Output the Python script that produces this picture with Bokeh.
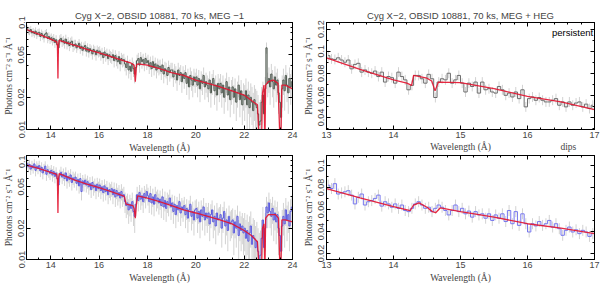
import numpy as np
from bokeh.plotting import figure
from bokeh.layouts import column, row
from bokeh.models import (Range1d, LinearAxis, LogAxis, FixedTicker, SingleIntervalTicker,
                          CustomJSTickFormatter, Label)
from bokeh.embed import file_html
from bokeh.resources import INLINE

# ---------------- data ----------------
TITLE_L = "Cyg X\u22122, OBSID 10881, 70 ks, MEG \u22121"
TITLE_R = "Cyg X\u22122, OBSID 10881, 70 ks, MEG + HEG"
XLABEL = "Wavelength (\u00c5)"
YLABEL = "Photons cm\u207b\u00b2 s\u207b\u00b9 \u00c5\u207b\u00b9"
TAG_PERS = "persistent"
TAG_DIPS = "dips"

# MEG -1 spectra, 0.05 A bins starting at 13.0 A
meg_start = 13.0
meg_bin = 0.05
pers_meg_flux = [
    0.088, 0.084, 0.083, 0.086, 0.080, 0.082, 0.079, 0.083, 0.077, 0.080,
    0.081, 0.074, 0.079, 0.076, 0.072, 0.078, 0.080, 0.071, 0.074, 0.070,
    0.072, 0.068, 0.071, 0.065, 0.069, 0.062, 0.058, 0.069, 0.071, 0.066,
    0.068, 0.064, 0.070, 0.063, 0.066, 0.061, 0.065, 0.067, 0.060, 0.062,
    0.063, 0.058, 0.061, 0.064, 0.057, 0.060, 0.055, 0.059, 0.061, 0.054,
    0.058, 0.053, 0.057, 0.055, 0.051, 0.056, 0.054, 0.050, 0.055, 0.053,
    0.054, 0.050, 0.052, 0.047, 0.053, 0.049, 0.051, 0.046, 0.050, 0.048,
    0.047, 0.050, 0.044, 0.049, 0.045, 0.043, 0.048, 0.041, 0.046, 0.044,
    0.045, 0.041, 0.038, 0.043, 0.036, 0.039, 0.035, 0.041, 0.037, 0.033,
    0.038, 0.044, 0.046, 0.040, 0.047, 0.043, 0.045, 0.041, 0.046, 0.042,
    0.044, 0.039, 0.042, 0.037, 0.043, 0.038, 0.041, 0.036, 0.040, 0.038,
    0.039, 0.035, 0.040, 0.033, 0.037, 0.036, 0.032, 0.038, 0.034, 0.036,
    0.036, 0.031, 0.035, 0.033, 0.029, 0.036, 0.032, 0.034, 0.028, 0.033,
    0.030, 0.034, 0.027, 0.031, 0.025, 0.032, 0.029, 0.026, 0.031, 0.028,
    0.031, 0.026, 0.030, 0.024, 0.029, 0.027, 0.032, 0.025, 0.028, 0.026,
    0.024, 0.029, 0.022, 0.027, 0.030, 0.023, 0.026, 0.021, 0.027, 0.024,
    0.027, 0.022, 0.026, 0.020, 0.024, 0.028, 0.021, 0.025, 0.019, 0.023,
    0.025, 0.020, 0.024, 0.018, 0.022, 0.026, 0.019, 0.023, 0.017, 0.021,
    0.019, 0.023, 0.017, 0.021, 0.016, 0.020, 0.018, 0.015, 0.019, 0.017,
    0.016, 0.014, 0.011, 0.012, 0.018, 0.021, 0.014, 0.024, 0.058, 0.027,
    0.030, 0.025, 0.033, 0.028, 0.024, 0.031, 0.026, 0.029, 0.022, 0.018,
    0.013, 0.024, 0.029, 0.023, 0.032, 0.026, 0.022, 0.030, 0.025, 0.028,
]
dips_meg_flux = [
    0.084, 0.078, 0.082, 0.074, 0.080, 0.076, 0.083, 0.072, 0.079, 0.075,
    0.080, 0.071, 0.077, 0.068, 0.074, 0.079, 0.066, 0.073, 0.070, 0.067,
    0.072, 0.065, 0.070, 0.063, 0.068, 0.060, 0.052, 0.064, 0.069, 0.062,
    0.066, 0.060, 0.068, 0.057, 0.063, 0.059, 0.065, 0.055, 0.061, 0.058,
    0.062, 0.054, 0.059, 0.051, 0.060, 0.045, 0.057, 0.053, 0.058, 0.052,
    0.056, 0.050, 0.054, 0.047, 0.055, 0.049, 0.052, 0.046, 0.053, 0.048,
    0.052, 0.046, 0.050, 0.044, 0.051, 0.045, 0.049, 0.042, 0.047, 0.045,
    0.048, 0.042, 0.047, 0.040, 0.046, 0.041, 0.044, 0.039, 0.045, 0.040,
    0.042, 0.036, 0.033, 0.035, 0.030, 0.034, 0.031, 0.036, 0.029, 0.026,
    0.034, 0.042, 0.037, 0.044, 0.038, 0.041, 0.036, 0.043, 0.039, 0.045,
    0.041, 0.036, 0.043, 0.035, 0.040, 0.034, 0.042, 0.037, 0.039, 0.035,
    0.038, 0.033, 0.040, 0.032, 0.037, 0.031, 0.036, 0.034, 0.039, 0.032,
    0.035, 0.029, 0.034, 0.027, 0.033, 0.030, 0.036, 0.028, 0.032, 0.030,
    0.033, 0.027, 0.031, 0.025, 0.030, 0.034, 0.026, 0.029, 0.024, 0.030,
    0.031, 0.025, 0.029, 0.023, 0.030, 0.026, 0.032, 0.024, 0.028, 0.025,
    0.028, 0.022, 0.027, 0.030, 0.023, 0.026, 0.021, 0.028, 0.024, 0.025,
    0.027, 0.020, 0.025, 0.029, 0.021, 0.024, 0.019, 0.026, 0.022, 0.023,
    0.024, 0.018, 0.023, 0.020, 0.026, 0.017, 0.022, 0.019, 0.021, 0.018,
    0.020, 0.016, 0.019, 0.015, 0.018, 0.021, 0.014, 0.017, 0.016, 0.013,
    0.015, 0.012, 0.010, 0.011, 0.016, 0.024, 0.013, 0.020, 0.032, 0.028,
    0.035, 0.029, 0.026, 0.031, 0.024, 0.028, 0.023, 0.027, 0.020, 0.017,
    0.012, 0.021, 0.026, 0.022, 0.030, 0.024, 0.027, 0.021, 0.029, 0.032,
]
# typical 1-sigma error in each 1-A segment (13-14, 14-15, ..., 23-24)
pers_meg_err = [0.007, 0.007, 0.006, 0.006, 0.006, 0.006, 0.006, 0.006, 0.006, 0.007, 0.008]
dips_meg_err = [0.009, 0.009, 0.008, 0.008, 0.008, 0.008, 0.007, 0.007, 0.007, 0.008, 0.009]

# folded models for MEG -1
pers_meg_model_wl = [13.0, 13.5, 14.0, 14.25, 14.28, 14.30, 14.32, 14.35, 15.0, 15.5, 16.0, 16.5,
                     17.0, 17.3, 17.45, 17.5, 17.55, 17.6, 18.0, 18.5, 19.0, 19.5, 20.0, 20.5,
                     21.0, 21.5, 22.0, 22.4, 22.55, 22.62, 22.72, 22.76, 22.82, 22.86, 22.89,
                     23.0, 23.2, 23.4, 23.48, 23.52, 23.56, 23.7, 24.0]
pers_meg_model = [0.086, 0.078, 0.070, 0.066, 0.060, 0.030, 0.060, 0.068, 0.061, 0.056, 0.052, 0.048,
                  0.044, 0.042, 0.040, 0.028, 0.040, 0.041, 0.040, 0.037, 0.034, 0.032, 0.029, 0.027,
                  0.025, 0.023, 0.021, 0.018, 0.017, 0.008, 0.008, 0.022, 0.026, 0.008, 0.026,
                  0.028, 0.029, 0.027, 0.008, 0.008, 0.026, 0.026, 0.024]
dips_meg_model_wl = [13.0, 13.5, 14.0, 14.25, 14.28, 14.30, 14.32, 14.35, 15.0, 15.5, 16.0, 16.5,
                     17.0, 17.05, 17.12, 17.4, 17.45, 17.5, 17.55, 17.6, 18.0, 18.5, 19.0, 19.5,
                     20.0, 20.5, 21.0, 21.5, 22.0, 22.3, 22.55, 22.62, 22.72, 22.76, 22.82,
                     22.86, 22.89, 23.0, 23.3, 23.42, 23.48, 23.52, 23.56, 23.7, 24.0]
dips_meg_model = [0.081, 0.075, 0.069, 0.066, 0.058, 0.028, 0.058, 0.067, 0.058, 0.053, 0.049, 0.045,
                  0.041, 0.040, 0.034, 0.033, 0.031, 0.025, 0.035, 0.041, 0.039, 0.036, 0.033, 0.030,
                  0.028, 0.026, 0.024, 0.022, 0.019, 0.017, 0.0148, 0.008, 0.008, 0.020, 0.022,
                  0.008, 0.025, 0.027, 0.027, 0.025, 0.008, 0.008, 0.024, 0.024, 0.023]

# MEG + HEG combined spectra, 0.05 A bins starting at 13.0 A
comb_start = 13.0
comb_bin = 0.05
pers_comb_flux = [
    0.096, 0.093, 0.0925, 0.094, 0.092, 0.090, 0.092, 0.084, 0.088, 0.089,
    0.081, 0.083, 0.081, 0.080, 0.082, 0.077, 0.081, 0.072, 0.077, 0.076,
    0.071, 0.081, 0.077, 0.074, 0.065, 0.069, 0.078, 0.078, 0.075, 0.071,
    0.079, 0.075, 0.058, 0.072, 0.075, 0.074, 0.080, 0.071, 0.074, 0.078,
    0.071, 0.063, 0.071, 0.068, 0.072, 0.062, 0.072, 0.065, 0.066, 0.063,
    0.062, 0.068, 0.065, 0.060, 0.062, 0.0585, 0.063, 0.057, 0.065, 0.0495,
    0.057, 0.0585, 0.0555, 0.058, 0.0555, 0.054, 0.054, 0.0555, 0.057, 0.051,
    0.054, 0.0495, 0.054, 0.051, 0.053, 0.054, 0.0495, 0.052, 0.048, 0.051,
]
dips_comb_flux = [
    0.082, 0.079, 0.0834, 0.074, 0.075, 0.076, 0.077, 0.073, 0.065, 0.071,
    0.074, 0.064, 0.067, 0.068, 0.070, 0.073, 0.063, 0.067, 0.065, 0.062,
    0.065, 0.061, 0.064, 0.059, 0.058, 0.061, 0.065, 0.067, 0.064, 0.061,
    0.062, 0.058, 0.061, 0.064, 0.062, 0.059, 0.055, 0.059, 0.064, 0.058,
    0.061, 0.056, 0.0585, 0.053, 0.058, 0.055, 0.056, 0.052, 0.056, 0.050,
    0.055, 0.052, 0.056, 0.049, 0.059, 0.047, 0.058, 0.0455, 0.056, 0.047,
    0.0395, 0.047, 0.045, 0.049, 0.0455, 0.047, 0.050, 0.044, 0.047, 0.0425,
    0.0365, 0.041, 0.044, 0.0395, 0.0415, 0.038, 0.041, 0.0395, 0.0355, 0.038,
]
# typical 1-sigma error in each 1-A segment (13-14, ..., 16-17)
pers_comb_err = [0.0045, 0.0045, 0.0045, 0.0045]
dips_comb_err = [0.005, 0.005, 0.005, 0.005]

pers_comb_model_wl = [13.0, 13.5, 14.0, 14.2, 14.27, 14.3, 14.5, 14.57, 14.62, 14.67, 15.0, 15.5, 16.0, 16.5, 17.0]
pers_comb_model = [0.094, 0.0835, 0.074, 0.071, 0.069, 0.078, 0.0755, 0.073, 0.064, 0.072, 0.0715, 0.066, 0.059, 0.054, 0.047]
dips_comb_model_wl = [13.0, 13.5, 14.0, 14.25, 14.3, 14.38, 14.5, 14.58, 14.63, 14.7, 15.0, 15.5, 16.0, 16.5, 17.0]
dips_comb_model = [0.079, 0.0705, 0.0625, 0.059, 0.064, 0.066, 0.062, 0.058, 0.057, 0.0615, 0.058, 0.053, 0.047, 0.043, 0.038]

# ---------------- styling ----------------
SANS = "Liberation Sans"
SERIF = "Liberation Serif"
RED = "#e3122e"
ERRC = "#d2d2d2"

fmt = CustomJSTickFormatter(code="return tick.toFixed(2).replace(/0$/, '');")
blank = CustomJSTickFormatter(code="return '';")


def style_axis(ax, show_labels=True):
    ax.major_tick_in = 4
    ax.major_tick_out = 0
    ax.minor_tick_in = 2
    ax.minor_tick_out = 0
    ax.axis_line_color = "black"
    ax.major_tick_line_color = "black"
    ax.minor_tick_line_color = "black"
    if show_labels:
        ax.major_label_text_font = SANS
        ax.major_label_text_font_size = "9px"
        ax.major_label_standoff = 2
        ax.axis_label_text_font = SERIF
        ax.axis_label_text_font_style = "normal"
        ax.axis_label_text_font_size = "9.5px"
        ax.axis_label_standoff = 2
    else:
        ax.formatter = blank
        ax.major_label_standoff = 0


def make_fig(title, width, height, borders, xr, yr, ylog, xticker, yticker, xlabel=True):
    p = figure(width=width, height=height, x_range=Range1d(*xr), y_range=Range1d(*yr),
               y_axis_type="log" if ylog else "linear", output_backend="svg",
               toolbar_location=None, title=title)
    p.min_border_left, p.min_border_right, p.min_border_top, p.min_border_bottom = borders
    p.grid.visible = False
    p.outline_line_color = "black"
    p.outline_line_alpha = 1
    p.background_fill_color = "white"
    p.border_fill_color = "white"
    if title:
        p.title.text_font = SANS
        p.title.text_font_size = "9.5px"
        p.title.text_font_style = "normal"
        p.title.align = "center"
        p.title.standoff = 4
    p.xaxis.ticker = xticker
    p.yaxis.ticker = yticker
    p.yaxis.formatter = fmt
    p.yaxis.major_label_orientation = "vertical"
    if xlabel:
        p.xaxis.axis_label = XLABEL
    p.yaxis.axis_label = YLABEL
    style_axis(p.xaxis[0])
    style_axis(p.yaxis[0])
    top = LinearAxis(ticker=xticker)
    style_axis(top, False)
    p.add_layout(top, "above")
    right = LogAxis(ticker=yticker) if ylog else LinearAxis(ticker=yticker)
    style_axis(right, False)
    p.add_layout(right, "right")
    return p


def add_spectrum(p, start, binw, flux, err_seg, model_wl, model, color, lw):
    n = len(flux)
    x = start + binw * (np.arange(n) + 0.5)
    f = np.array(flux)
    per = int(round(1.0 / binw))
    e = np.repeat(np.array(err_seg), per)[:n]
    p.segment(x0=x, y0=f - e, x1=x, y1=f + e, line_color=ERRC, line_width=1)
    p.step(x=x, y=f, mode="center", line_color=color, line_width=lw)
    p.line(model_wl, model, line_color=RED, line_width=1.3, line_alpha=0.9)


log_ticker_l = FixedTicker(ticks=[0.01, 0.02, 0.05, 0.1],
                           minor_ticks=[0.03, 0.04, 0.06, 0.07, 0.08, 0.09])
x_ticker_l = SingleIntervalTicker(interval=2, num_minor_ticks=4)
x_ticker_r = SingleIntervalTicker(interval=1, num_minor_ticks=5)
y_ticker_r = SingleIntervalTicker(interval=0.02, num_minor_ticks=2)

WL, WR = 300, 300
HT, HB = 155, 134

p1 = make_fig(TITLE_L, WL, HT, (23, 8, 22, 26), (13, 24), (0.01, 0.1), True, x_ticker_l, log_ticker_l)
add_spectrum(p1, meg_start, meg_bin, pers_meg_flux, pers_meg_err, pers_meg_model_wl, pers_meg_model, "#4f5a50", 1)

p2 = make_fig(TITLE_R, WR, HT, (26, 6, 22, 26), (13, 17), (0.029, 0.126), False, x_ticker_r, y_ticker_r,
              xlabel=False)
add_spectrum(p2, comb_start, comb_bin, pers_comb_flux, pers_comb_err, pers_comb_model_wl, pers_comb_model, "#6e6e6e", 1)
p2.add_layout(Label(x=16.98, y=0.117, text=TAG_PERS, text_align="right", text_baseline="middle",
                    text_font=SANS, text_font_size="9.5px", text_color="black"))
# x-axis title row of the upper-right panel, shared with the "dips" tag of the panel below
label_positions = {15.0: XLABEL, 16.61: TAG_DIPS}
lab_axis = LinearAxis(
    ticker=FixedTicker(ticks=list(label_positions.keys()), minor_ticks=[]),
    formatter=CustomJSTickFormatter(
        args=dict(names=[label_positions[k] for k in label_positions]),
        code="return tick < 16 ? names[0] : names[1];"),
    major_tick_in=0, major_tick_out=0, minor_tick_in=0, minor_tick_out=0,
    axis_line_color=None, major_label_standoff=1,
    major_label_text_font=SERIF, major_label_text_font_size="9.5px")
p2.add_layout(lab_axis, "below")

p3 = make_fig(None, WL, HB, (23, 8, 0, 30), (13, 24), (0.01, 0.1), True, x_ticker_l, log_ticker_l)
add_spectrum(p3, meg_start, meg_bin, dips_meg_flux, dips_meg_err, dips_meg_model_wl, dips_meg_model, "#5b5be0", 1)

p4 = make_fig(None, WR, HB, (26, 6, 0, 30), (13, 17), (0.0145, 0.109), False, x_ticker_r, y_ticker_r)
add_spectrum(p4, comb_start, comb_bin, dips_comb_flux, dips_comb_err, dips_comb_model_wl, dips_comb_model, "#7676ee", 1)

layout = column(row(p1, p2), row(p3, p4))
open("out.html", "w").write(file_html(layout, INLINE))
